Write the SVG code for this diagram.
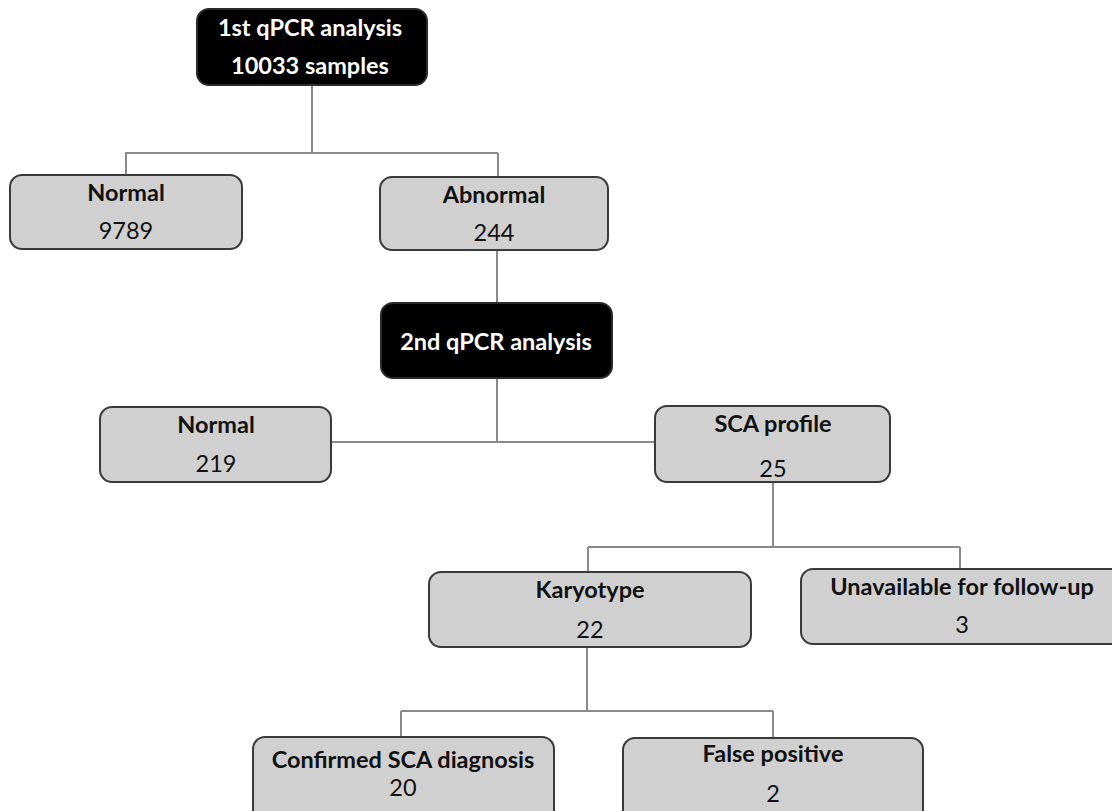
<svg xmlns="http://www.w3.org/2000/svg" width="1112" height="811" viewBox="0 0 1112 811">
<style>
.box{fill:#d0d0d0;stroke:#3a3a3a;stroke-width:2}
.dark{fill:#000;stroke:#2a2a2a;stroke-width:2}
.t{font-family:Lato,"Liberation Sans",sans-serif;font-size:23.5px;text-anchor:middle;fill:#111}
.b{font-weight:bold}
.w{fill:#fff;font-weight:bold}
.c line{stroke:#8a8a8a;stroke-width:2}
</style>
<rect width="1112" height="811" fill="#fff"/>
<g class="c" id="connectors">
<line x1="312" y1="85" x2="312" y2="153"/>
<line x1="125" y1="153" x2="498" y2="153"/>
<line x1="126" y1="153" x2="126" y2="175"/>
<line x1="498" y1="153" x2="498" y2="177"/>
<line x1="497" y1="250" x2="497" y2="303"/>
<line x1="497" y1="378" x2="497" y2="442"/>
<line x1="331" y1="442" x2="655" y2="442"/>
<line x1="773" y1="482" x2="773" y2="547"/>
<line x1="588" y1="547" x2="960" y2="547"/>
<line x1="588" y1="547" x2="588" y2="572"/>
<line x1="960" y1="547" x2="960" y2="569"/>
<line x1="587" y1="647" x2="587" y2="711"/>
<line x1="401" y1="711" x2="773" y2="711"/>
<line x1="401" y1="711" x2="401" y2="737"/>
<line x1="773" y1="711" x2="773" y2="738"/>
</g>
<g id="n1"><rect class="dark" x="197" y="9" width="230" height="76" rx="12"/>
<text class="t w" x="310" y="36">1st qPCR analysis</text><text class="t w" x="310" y="74">10033 samples</text></g>
<g id="n2"><rect class="box" x="10" y="175" width="232" height="74" rx="12"/>
<text class="t b" x="126" y="201">Normal</text><text class="t" x="126" y="239">9789</text></g>
<g id="n3"><rect class="box" x="380" y="177" width="228" height="73" rx="12"/>
<text class="t b" x="494" y="203">Abnormal</text><text class="t" x="494" y="241">244</text></g>
<g id="n4"><rect class="dark" x="381" y="303" width="231" height="75" rx="12"/>
<text class="t w" x="496" y="350">2nd qPCR analysis</text></g>
<g id="n5"><rect class="box" x="100" y="407" width="231" height="75" rx="12"/>
<text class="t b" x="216" y="433">Normal</text><text class="t" x="216" y="472">219</text></g>
<g id="n6"><rect class="box" x="655" y="406" width="235" height="76" rx="12"/>
<text class="t b" x="773" y="432">SCA profile</text><text class="t" x="773" y="477">25</text></g>
<g id="n7"><rect class="box" x="429" y="572" width="322" height="75" rx="12"/>
<text class="t b" x="590" y="598">Karyotype</text><text class="t" x="590" y="638">22</text></g>
<g id="n8"><rect class="box" x="801" y="569" width="322" height="75" rx="12"/>
<text class="t b" x="962" y="595">Unavailable for follow-up</text><text class="t" x="962" y="633">3</text></g>
<g id="n9"><rect class="box" x="253" y="737" width="301" height="85" rx="12"/>
<text class="t b" x="403" y="768">Confirmed SCA diagnosis</text><text class="t" x="403" y="796">20</text></g>
<g id="n10"><rect class="box" x="623" y="738" width="300" height="84" rx="12"/>
<text class="t b" x="773" y="762">False positive</text><text class="t" x="773" y="802">2</text></g>
</svg>
